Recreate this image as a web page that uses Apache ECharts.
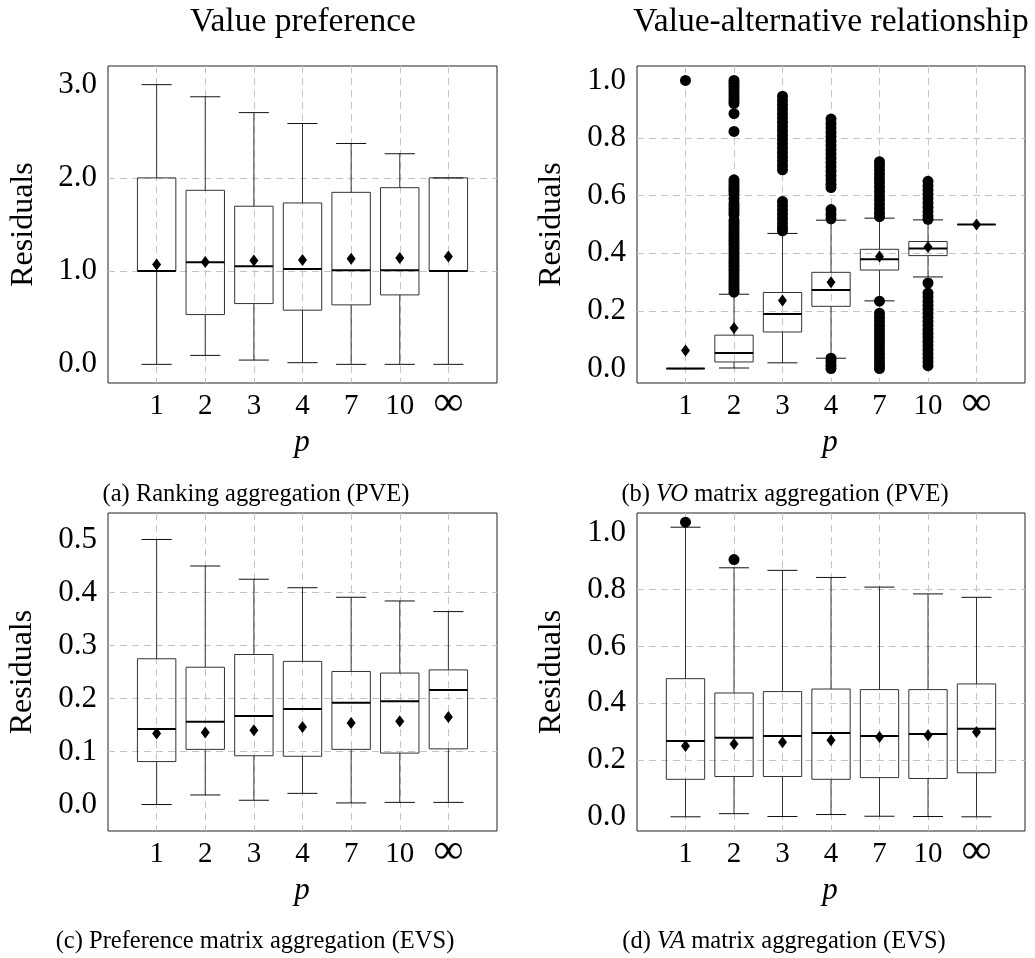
<!DOCTYPE html>
<html>
<head>
<meta charset="utf-8">
<script src="https://cdn.jsdelivr.net/npm/echarts@6/dist/echarts.min.js"></script>
<style>
html,body{margin:0;padding:0;background:#fff;}
#chart{width:1035px;height:958px;}
</style>
</head>
<body>
<div id="chart"></div>
<script>
// ---------- data ----------
const categories = ['1', '2', '3', '4', '7', '10', '\u221E'];

// (a) Ranking aggregation (PVE)
const aLow  = [0, 0.096, 0.046, 0.018, 0, 0, 0];
const aQ1   = [1.0, 0.534, 0.652, 0.581, 0.638, 0.745, 1.0];
const aMed  = [1.0, 1.094, 1.051, 1.022, 1.008, 1.008, 1.0];
const aQ3   = [2.0, 1.867, 1.696, 1.731, 1.845, 1.895, 2.0];
const aHigh = [3.0, 2.87, 2.70, 2.583, 2.369, 2.259, 2.0];
const aMean = [1.07, 1.097, 1.115, 1.119, 1.133, 1.14, 1.158];
const aTicks = [0, 1, 2, 3];

// (b) VO matrix aggregation (PVE)
const bLow  = [0, 0.002, 0.02, 0.036, 0.235, 0.318, 0.5];
const bQ1   = [0, 0.023, 0.127, 0.216, 0.342, 0.392, 0.5];
const bMed  = [0, 0.054, 0.189, 0.273, 0.379, 0.417, 0.5];
const bQ3   = [0, 0.116, 0.264, 0.334, 0.414, 0.441, 0.5];
const bHigh = [0, 0.258, 0.469, 0.515, 0.522, 0.516, 0.5];
const bMean = [0.063, 0.141, 0.236, 0.30, 0.389, 0.422, 0.5];
const bOutliers = [
  [1.0],
  [1.0, 0.99, 0.98, 0.97, 0.96, 0.95, 0.94, 0.93, 0.92, 0.885, 0.823,
   0.655, 0.645, 0.635, 0.625, 0.615, 0.605, 0.59, 0.575, 0.565, 0.555, 0.545, 0.535,
   0.515, 0.505, 0.495, 0.485, 0.475, 0.465, 0.455, 0.445, 0.435, 0.425, 0.415, 0.405,
   0.395, 0.385, 0.375, 0.365, 0.355, 0.345, 0.335, 0.325, 0.315, 0.305, 0.295, 0.285,
   0.275, 0.265],
  [0.945, 0.93, 0.915, 0.9, 0.885, 0.87, 0.855, 0.84, 0.825, 0.81, 0.795, 0.78, 0.765,
   0.75, 0.735, 0.72, 0.705, 0.69, 0.58, 0.565, 0.55, 0.535, 0.52, 0.505, 0.49, 0.478],
  [0.866, 0.85, 0.835, 0.82, 0.805, 0.79, 0.775, 0.76, 0.745, 0.73, 0.715, 0.70, 0.685,
   0.67, 0.655, 0.64, 0.628, 0.552, 0.535, 0.52, 0.036, 0.025, 0.012, 0.0],
  [0.718, 0.705, 0.69, 0.675, 0.66, 0.645, 0.63, 0.615, 0.6, 0.585, 0.57, 0.555, 0.54,
   0.527, 0.234, 0.192, 0.178, 0.164, 0.15, 0.136, 0.122, 0.108, 0.094, 0.08, 0.066,
   0.052, 0.038, 0.024, 0.01, 0.0],
  [0.65, 0.635, 0.62, 0.605, 0.59, 0.575, 0.56, 0.545, 0.53, 0.518, 0.297, 0.262, 0.248,
   0.234, 0.22, 0.206, 0.192, 0.178, 0.164, 0.15, 0.136, 0.122, 0.108, 0.094, 0.08,
   0.066, 0.052, 0.038, 0.024, 0.01],
  []
];
const bTicks = [0, 0.2, 0.4, 0.6, 0.8, 1.0];

// (c) Preference matrix aggregation (EVS)
const cLow  = [0, 0.018, 0.008, 0.021, 0.003, 0.004, 0.004];
const cQ1   = [0.081, 0.104, 0.092, 0.091, 0.104, 0.097, 0.105];
const cMed  = [0.1426, 0.156, 0.167, 0.180, 0.192, 0.195, 0.216];
const cQ3   = [0.275, 0.259, 0.283, 0.270, 0.251, 0.248, 0.254];
const cHigh = [0.5, 0.45, 0.425, 0.409, 0.391, 0.384, 0.364];
const cMean = [0.134, 0.136, 0.140, 0.146, 0.154, 0.157, 0.165];
const cTicks = [0, 0.1, 0.2, 0.3, 0.4, 0.5];

// (d) VA matrix aggregation (EVS)
const dLow  = [0, 0.011, 0.001, 0.008, 0.002, 0.001, 0];
const dQ1   = [0.132, 0.142, 0.142, 0.132, 0.138, 0.135, 0.155];
const dMed  = [0.267, 0.278, 0.285, 0.295, 0.285, 0.292, 0.31];
const dQ3   = [0.4865, 0.436, 0.441, 0.45, 0.448, 0.448, 0.468];
const dHigh = [1.02, 0.877, 0.868, 0.843, 0.809, 0.785, 0.773];
const dMean = [0.249, 0.256, 0.263, 0.27, 0.281, 0.287, 0.299];
const dOutliers = [[1.0375], [0.906], [], [], [], [], []];
const dTicks = [0, 0.2, 0.4, 0.6, 0.8, 1.0];

// ---------- layout ----------
const FONT = '"Liberation Serif", "DejaVu Serif", serif';
const panels = [
  {left: 108, top: 66,  width: 389, height: 317, min: -0.2,  max: 3.2,  ticks: aTicks,
   low: aLow, q1: aQ1, med: aMed, q3: aQ3, high: aHigh, mean: aMean, out: null},
  {left: 637, top: 66,  width: 388, height: 317, min: -0.05, max: 1.05, ticks: bTicks,
   low: bLow, q1: bQ1, med: bMed, q3: bQ3, high: bHigh, mean: bMean, out: bOutliers},
  {left: 108, top: 513, width: 389, height: 318, min: -0.05, max: 0.55, ticks: cTicks,
   low: cLow, q1: cQ1, med: cMed, q3: cQ3, high: cHigh, mean: cMean, out: null},
  {left: 637, top: 513, width: 388, height: 318, min: -0.05, max: 1.07, ticks: dTicks,
   low: dLow, q1: dQ1, med: dMed, q3: dQ3, high: dHigh, mean: dMean, out: dOutliers}
];

const gridLine = {show: true, showMinLine: false, showMaxLine: false,
  lineStyle: {color: '#c4c4c4', type: [7, 5], width: 1}};

function renderBox(params, api) {
  const x = api.value(0);
  const low = api.coord([x, api.value(1)]);
  const q1 = api.coord([x, api.value(2)]);
  const med = api.coord([x, api.value(3)]);
  const q3 = api.coord([x, api.value(4)]);
  const high = api.coord([x, api.value(5)]);
  const band = api.size([1, 0])[0];
  const bw = band * 0.79, cw = band * 0.62;
  const cx = low[0];
  const thin = {stroke: '#333', lineWidth: 1, fill: null};
  return {
    type: 'group',
    children: [
      {type: 'line', shape: {x1: cx, y1: low[1], x2: cx, y2: q1[1]}, style: thin},
      {type: 'line', shape: {x1: cx, y1: q3[1], x2: cx, y2: high[1]}, style: thin},
      {type: 'line', shape: {x1: cx - cw / 2, y1: low[1], x2: cx + cw / 2, y2: low[1]}, style: {stroke: '#111', lineWidth: 1}},
      {type: 'line', shape: {x1: cx - cw / 2, y1: high[1], x2: cx + cw / 2, y2: high[1]}, style: {stroke: '#111', lineWidth: 1}},
      {type: 'rect', shape: {x: cx - bw / 2, y: q3[1], width: bw, height: q1[1] - q3[1]}, style: {stroke: '#333', lineWidth: 1, fill: 'none'}},
      {type: 'line', shape: {x1: cx - bw / 2, y1: med[1], x2: cx + bw / 2, y2: med[1]}, style: {stroke: '#000', lineWidth: 2}}
    ]
  };
}

const grid = [], xAxis = [], yAxis = [], series = [];
panels.forEach((p, i) => {
  grid.push({left: p.left, top: p.top, width: p.width, height: p.height,
    show: true, borderColor: '#222', borderWidth: 1, backgroundColor: 'transparent'});
  xAxis.push({
    gridIndex: i, type: 'value', min: 0, max: 8, interval: 1,
    axisLine: {show: false}, axisTick: {show: false},
    splitLine: gridLine,
    axisLabel: {
      margin: 9, fontFamily: FONT, fontSize: 29, color: '#000',
      formatter: v => {
        if (v < 1 || v > 7) return '';
        const c = categories[v - 1];
        return c === '\u221E' ? '{inf|' + c + '}' : c;
      },
      rich: {inf: {fontFamily: FONT, fontSize: 42, color: '#000', lineHeight: 30, padding: [0, 0, 6, 0]}}
    }
  });
  yAxis.push({
    gridIndex: i, type: 'value', min: p.min, max: p.max,
    axisLine: {show: false},
    axisTick: {show: false, customValues: p.ticks},
    splitLine: gridLine,
    axisLabel: {
      customValues: p.ticks, margin: 11, fontFamily: FONT, fontSize: 31, color: '#000',
      formatter: v => Number(v).toFixed(1)
    }
  });
  const boxData = categories.map((c, k) => [k + 1, p.low[k], p.q1[k], p.med[k], p.q3[k], p.high[k]]);
  series.push({
    type: 'custom', xAxisIndex: i, yAxisIndex: i, renderItem: renderBox,
    encode: {x: 0, y: [1, 2, 3, 4, 5]}, data: boxData, silent: true, z: 3
  });
  if (p.out) {
    const outData = [];
    p.out.forEach((vals, k) => vals.forEach(v => outData.push([k + 1, v])));
    series.push({
      type: 'scatter', xAxisIndex: i, yAxisIndex: i, data: outData,
      symbol: 'circle', symbolSize: 11, itemStyle: {color: '#000', opacity: 1}, silent: true, z: 4
    });
  }
  series.push({
    type: 'scatter', xAxisIndex: i, yAxisIndex: i,
    data: p.mean.map((m, k) => [k + 1, m]),
    symbol: 'diamond', symbolSize: [9, 12], itemStyle: {color: '#000', opacity: 1}, silent: true, z: 5
  });
});

function txt(x, y, text, size, extra) {
  return {
    type: 'text', x: x, y: y, silent: true,
    style: Object.assign({text: text, fontFamily: FONT, fontSize: size, fill: '#000',
      align: 'center', verticalAlign: 'middle'}, extra || {})
  };
}
function rotTxt(x, y, text, size) {
  const t = txt(x, y, text, size);
  t.rotation = Math.PI / 2;
  return t;
}
function capRich(x, y, pre, it, post) {
  return {
    type: 'text', x: x, y: y, silent: true,
    style: {
      text: '{n|' + pre + '}{i|' + it + '}{n|' + post + '}',
      rich: {
        n: {fontFamily: FONT, fontSize: 24.5, fill: '#000'},
        i: {fontFamily: FONT, fontSize: 24.5, fontStyle: 'italic', fill: '#000'}
      },
      align: 'center', verticalAlign: 'middle'
    }
  };
}

const graphic = [
  txt(303, 22, 'Value preference', 33.5),
  txt(831, 22, 'Value-alternative relationship', 33.5),
  rotTxt(24, 224.5, 'Residuals', 32),
  rotTxt(552, 224.5, 'Residuals', 32),
  rotTxt(23, 672, 'Residuals', 32),
  rotTxt(552, 672, 'Residuals', 32),
  txt(302, 443, 'p', 31, {fontStyle: 'italic'}),
  txt(830, 443, 'p', 31, {fontStyle: 'italic'}),
  txt(302, 891, 'p', 31, {fontStyle: 'italic'}),
  txt(830, 891, 'p', 31, {fontStyle: 'italic'}),
  txt(256, 495, '(a) Ranking aggregation (PVE)', 24.5),
  capRich(785, 495, '(b) ', 'VO', ' matrix aggregation (PVE)'),
  txt(255, 942, '(c) Preference matrix aggregation (EVS)', 24.5),
  capRich(784, 942, '(d) ', 'VA', ' matrix aggregation (EVS)')
];

const chart = echarts.init(document.getElementById('chart'), null, {renderer: 'canvas'});
chart.setOption({
  animation: false,
  backgroundColor: '#fff',
  grid: grid, xAxis: xAxis, yAxis: yAxis, series: series, graphic: graphic
});
</script>
</body>
</html>
